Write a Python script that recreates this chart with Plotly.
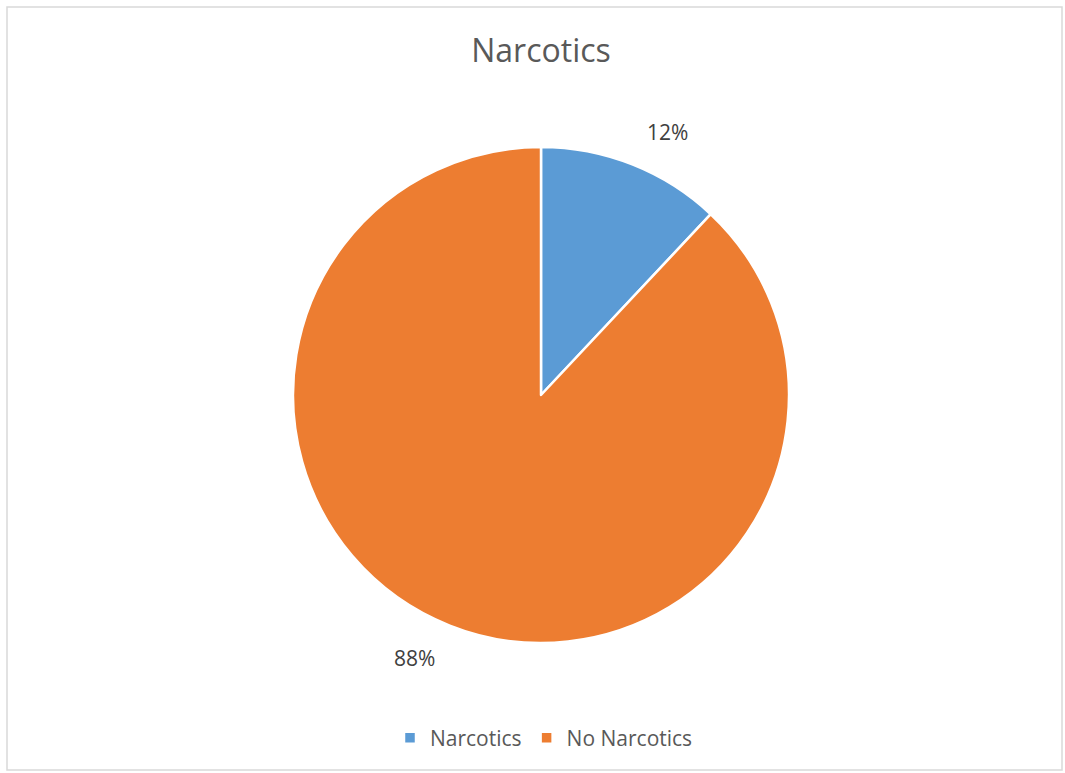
import math
import plotly.graph_objects as go

labels = ["Narcotics", "No Narcotics"]
values = [12, 88]
colors = ["#5B9BD5", "#ED7D31"]
title_text = "Narcotics"

W, H = 1065, 773
cx, cy, R = 541, 395, 248
FONT = "Open Sans, Lato, sans-serif"

fig = go.Figure(go.Pie(
    labels=labels,
    values=values,
    marker=dict(colors=colors, line=dict(color="white", width=2.5)),
    sort=False,
    direction="clockwise",
    rotation=0,
    textinfo="none",
    hoverinfo="label+percent",
    domain=dict(x=[(cx - R) / W, (cx + R) / W],
                y=[(H - cy - R) / H, (H - cy + R) / H]),
))

# data labels placed outside (best-fit style), computed from the values
total = sum(values)
annotations = []
cum = 0.0
label_r = 292
for v in values:
    mid = (cum + v / 2) / total * 360 + 4
    cum += v
    a = math.radians(mid)
    px = cx + label_r * math.sin(a)
    py = cy - label_r * math.cos(a)
    annotations.append(dict(
        x=px / W, y=1 - py / H, xref="paper", yref="paper",
        text=f"{round(v / total * 100)}%", showarrow=False,
        xanchor="center", yanchor="middle",
        font=dict(family=FONT, size=21, color="#404040")))

fig.update_layout(
    width=W, height=H,
    margin=dict(l=0, r=0, t=0, b=0),
    paper_bgcolor="white",
    plot_bgcolor="white",
    title=dict(text=title_text, x=541 / W, xanchor="center",
               y=1 - 51 / H, yanchor="middle",
               font=dict(family=FONT, size=32, color="#595959")),
    legend=dict(orientation="h", x=544 / W, xanchor="center",
                y=1 - 738 / H, yanchor="middle",
                font=dict(family=FONT, size=21, color="#595959"),
                itemwidth=30),
    annotations=annotations,
    shapes=[dict(type="rect", xref="paper", yref="paper",
                 x0=7 / W, x1=1062 / W, y0=1 - 770 / H, y1=1 - 7 / H,
                 line=dict(color="#D9D9D9", width=1.5), fillcolor="rgba(0,0,0,0)")],
)

fig.write_html("out.html")
